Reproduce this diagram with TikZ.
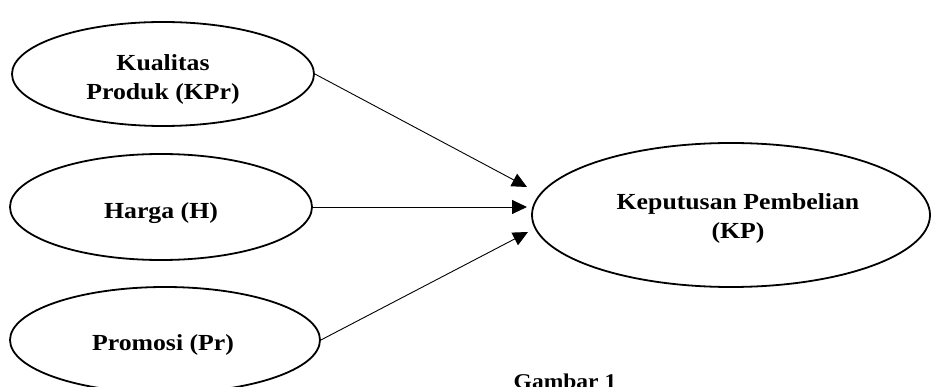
\documentclass[tikz,border=0pt]{standalone}
\usepackage{fontspec}
\setmainfont{Liberation Serif}[FakeStretch=1.12]
\usetikzlibrary{shapes.geometric,arrows.meta}
\begin{document}
\begin{tikzpicture}[x=1pt,y=-1pt,
  var/.style={ellipse,draw,line width=1.8pt,inner sep=0pt},
  lab/.style={align=center,inner sep=0pt,font=\fontsize{23}{29}\selectfont\bfseries},
  link/.style={line width=0.9pt,-{Triangle[length=15pt,width=14pt]}}]
\useasboundingbox (0,0) rectangle (931,387);
\clip (0,0) rectangle (931,387);
\node[var,minimum width=302pt,minimum height=104pt,
  label={[lab,yshift=-5pt]center:Kualitas\\Produk (KPr)}] (kpr) at (163,74) {};
\node[var,minimum width=302pt,minimum height=106pt,
  label={[lab,yshift=-6pt]center:Harga (H)}] (h) at (161,207) {};
\node[var,minimum width=310pt,minimum height=106pt,
  label={[lab,yshift=-5pt,xshift=-2pt]center:Promosi (Pr)}] (pr) at (165,340) {};
\node[var,minimum width=398pt,minimum height=144pt,
  label={[lab,yshift=-3pt,xshift=7pt]center:Keputusan Pembelian\\(KP)}] (kp) at (731,215) {};
\coordinate (t1) at (527,187);
\coordinate (t2) at (527,207);
\coordinate (t3) at (528,232);
\draw[link] (kpr.east) -- (t1);
\draw[link] (h.east) -- (t2);
\draw[link] (pr.east) -- (t3);
\node[font=\fontsize{21}{25}\selectfont\bfseries,anchor=base] (cap) at (565,388) {Gambar 1};
\end{tikzpicture}
\end{document}
